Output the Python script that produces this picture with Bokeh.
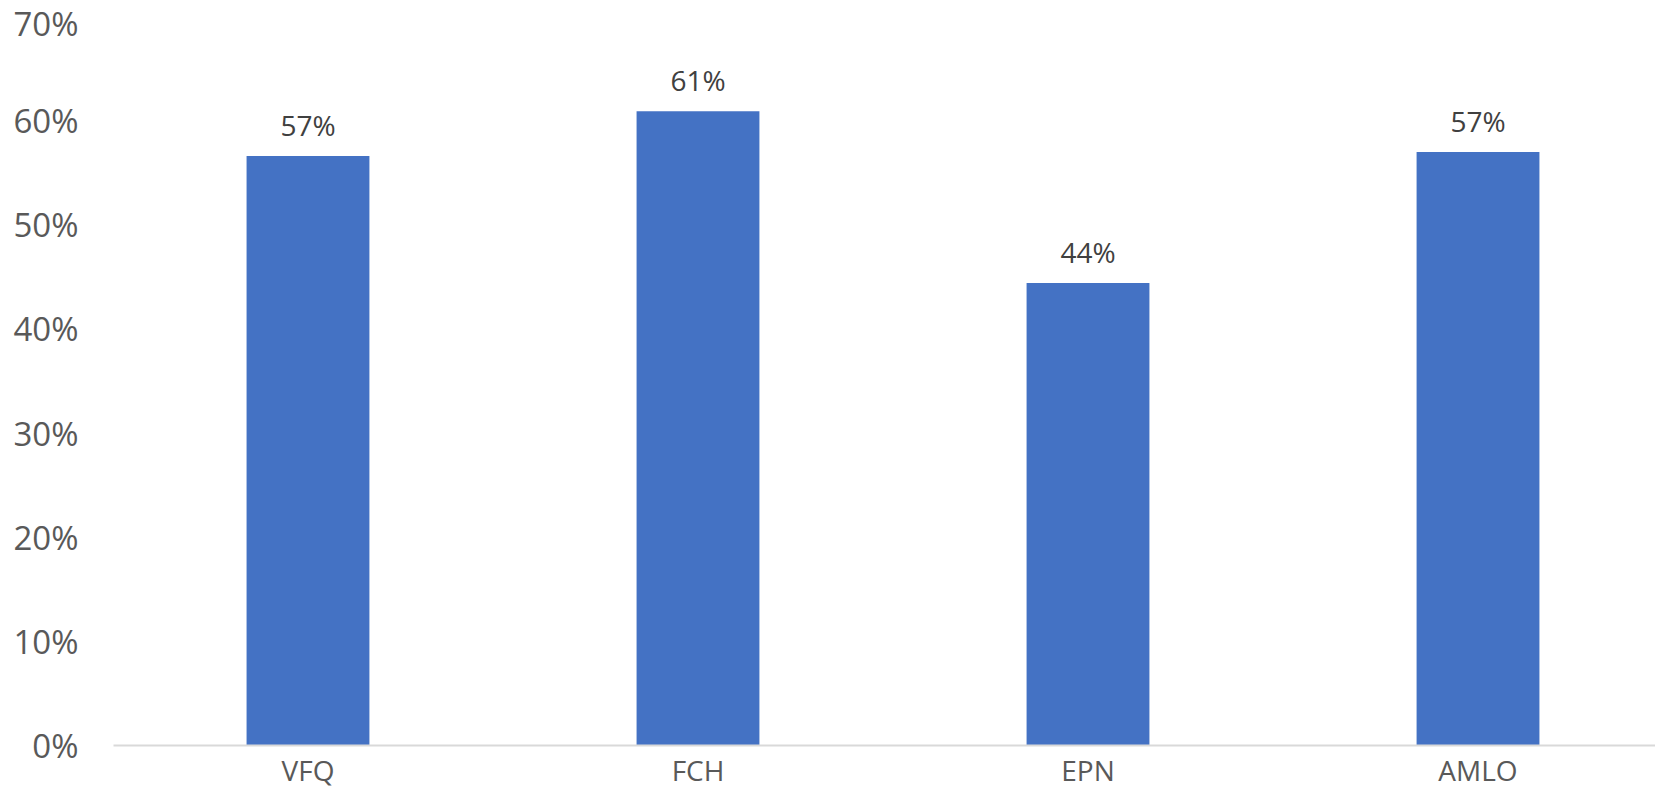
from bokeh.plotting import figure
from bokeh.models import FixedTicker, NumeralTickFormatter, ColumnDataSource, Range1d
from bokeh.core.properties import value
from bokeh.embed import file_html
from bokeh.resources import INLINE

categories = ["VFQ", "FCH", "EPN", "AMLO"]
shares = [0.566, 0.609, 0.444, 0.570]
y_ticks = [0.0, 0.1, 0.2, 0.3, 0.4, 0.5, 0.6, 0.7]

xs = list(range(len(categories)))
labels = [f"{round(v * 100)}%" for v in shares]
src = ColumnDataSource(dict(x=xs, top=shares, label=labels))

p = figure(width=1655, height=791, output_backend="svg", toolbar_location=None,
           x_range=Range1d(-0.4987, 3.4551), y_range=Range1d(0, 0.70),
           min_border_left=113, min_border_right=0, min_border_top=16, min_border_bottom=0)
p.outline_line_color = None
p.xgrid.visible = False
p.ygrid.visible = False

p.vbar(x="x", top="top", width=0.315, bottom=0, source=src,
       fill_color="#4472C4", line_color=None)
p.text(x="x", y="top", text="label", source=src, y_offset=-31,
       text_align="center", text_baseline="alphabetic",
       text_font=value("Open Sans"), text_font_size="28px", text_color="#404040")

p.xaxis.ticker = FixedTicker(ticks=xs)
p.xaxis.major_label_overrides = {i: c for i, c in enumerate(categories)}
p.xaxis.axis_line_color = "#D9D9D9"
p.xaxis.axis_line_width = 2
p.xaxis.major_tick_line_color = None
p.xaxis.minor_tick_line_color = None
p.xaxis.major_tick_out = 0
p.xaxis.major_tick_in = 0
p.xaxis.minor_tick_out = 0
p.xaxis.axis_label_standoff = 0
p.xaxis.major_label_text_font = "Open Sans"
p.xaxis.major_label_text_font_size = "28px"
p.xaxis.major_label_text_color = "#595959"
p.xaxis.major_label_standoff = 5

p.yaxis.ticker = FixedTicker(ticks=y_ticks)
p.yaxis.formatter = NumeralTickFormatter(format="0%")
p.yaxis.axis_line_color = None
p.yaxis.major_tick_line_color = None
p.yaxis.minor_tick_line_color = None
p.yaxis.major_tick_out = 0
p.yaxis.major_tick_in = 0
p.yaxis.minor_tick_out = 0
p.yaxis.axis_label_standoff = 0
p.yaxis.major_label_text_font = "Open Sans"
p.yaxis.major_label_text_font_size = "33px"
p.yaxis.major_label_text_color = "#595959"
p.yaxis.major_label_standoff = 35

open("out.html", "w").write(file_html(p, INLINE))
